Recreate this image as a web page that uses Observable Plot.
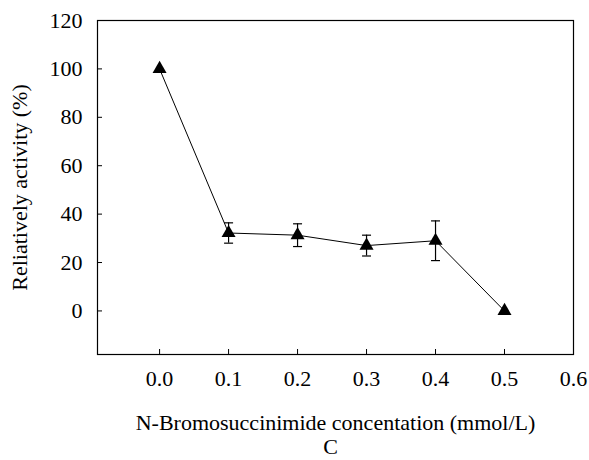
<!DOCTYPE html>
<html>
<head>
<meta charset="utf-8">
<script src="https://cdn.jsdelivr.net/npm/d3@7"></script>
<script src="https://cdn.jsdelivr.net/npm/@observablehq/plot@0.6"></script>
<style>
  html, body { margin: 0; padding: 0; background: #fff; }
  #chart svg { display: block; }
</style>
</head>
<body>
<div id="chart"></div>
<script>
const concentration = [0.0, 0.1, 0.2, 0.3, 0.4, 0.5];
const activity = [100, 32.2, 31.3, 27.0, 29.0, 0];
const errors = [0, 4.2, 4.7, 4.3, 8.2, 0];
const xTicks = [0.0, 0.1, 0.2, 0.3, 0.4, 0.5, 0.6];
const yTicks = [0, 20, 40, 60, 80, 100, 120];

const data = concentration.map((c, i) => ({x: c, y: activity[i], e: errors[i]}));
const withErr = data.filter(d => d.e > 0);

const capSymbol = {
  draw(ctx, size) {
    const w = 4.5;
    ctx.moveTo(-w, 0);
    ctx.lineTo(w, 0);
  }
};

const font = "'Liberation Serif', 'Times New Roman', serif";

const chart = Plot.plot({
  width: 589,
  height: 460,
  marginLeft: 97,
  marginRight: 16,
  marginTop: 20,
  marginBottom: 106,
  style: {fontFamily: font, fontSize: "22px", color: "#000", background: "#fff"},
  x: {domain: [-0.09, 0.6]},
  y: {domain: [-18, 120]},
  marks: [
    Plot.frame({stroke: "#000", strokeWidth: 1.2}),
    Plot.axisX({
      ticks: xTicks, tickFormat: d3.format(".1f"), tickSize: -5, tickPadding: 21,
      label: "N-Bromosuccinimide concentation (mmol/L)", labelAnchor: "center", labelOffset: 75,
      labelArrow: "none", fontSize: 22, fontFamily: font
    }),
    Plot.axisY({
      ticks: yTicks, tickSize: -5, tickPadding: 20,
      label: "Reliatively activity (%)", labelAnchor: "center", labelOffset: 86,
      labelArrow: "none", fontSize: 22, fontFamily: font
    }),
    Plot.ruleX(withErr, {x: "x", y1: d => d.y - d.e, y2: d => d.y + d.e, stroke: "#000", strokeWidth: 1.2}),
    Plot.dot(withErr, {x: "x", y: d => d.y + d.e, symbol: capSymbol, stroke: "#000", strokeWidth: 1.2, r: 3}),
    Plot.dot(withErr, {x: "x", y: d => d.y - d.e, symbol: capSymbol, stroke: "#000", strokeWidth: 1.2, r: 3}),
    Plot.line(data, {x: "x", y: "y", stroke: "#000", strokeWidth: 1}),
    Plot.dot(data, {x: "x", y: "y", symbol: "triangle", fill: "#000", r: 5.2}),
    Plot.text(["C"], {frameAnchor: "bottom", dx: -5, dy: 99, text: d => d, fontSize: 22, fontFamily: font, fill: "#000"})
  ]
});
document.getElementById("chart").appendChild(chart);
</script>
</body>
</html>
